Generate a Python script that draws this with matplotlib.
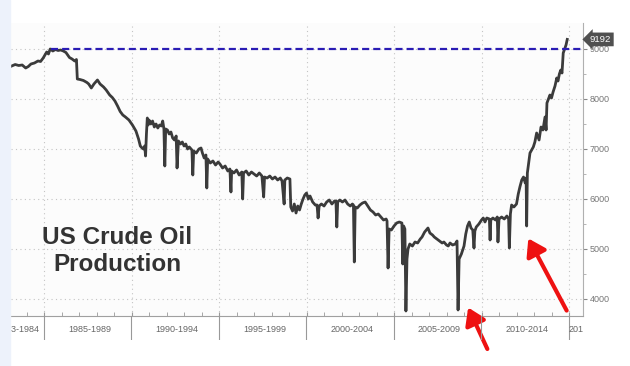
import matplotlib
matplotlib.use("Agg")
import matplotlib.pyplot as plt
from matplotlib.patches import Rectangle

# weekly US crude production (kb/d) as (decimal year, value)
years = [
    1983.15, 1983.35, 1983.55, 1983.75, 1983.95, 1984.1, 1984.25, 1984.45, 1984.65, 1984.8,
    1984.95, 1985.05, 1985.15, 1985.25, 1985.35, 1985.5, 1985.65, 1985.8, 1985.95, 1986.1,
    1986.25, 1986.45, 1986.6, 1986.75, 1986.85, 1986.9, 1987.05, 1987.25, 1987.45, 1987.55,
    1987.7, 1987.85, 1988.05, 1988.2, 1988.4, 1988.55, 1988.75, 1988.9, 1989.05, 1989.2,
    1989.35, 1989.5, 1989.65, 1989.85, 1990.05, 1990.25, 1990.4, 1990.5, 1990.6, 1990.68,
    1990.75, 1990.8, 1990.85, 1990.9, 1990.95, 1991.0, 1991.1, 1991.2, 1991.3, 1991.4,
    1991.5, 1991.6, 1991.7, 1991.78, 1991.85, 1991.9, 1991.95, 1992.05, 1992.15, 1992.25,
    1992.35, 1992.45, 1992.55, 1992.6, 1992.68, 1992.8, 1992.9, 1993.0, 1993.1, 1993.2,
    1993.3, 1993.45, 1993.5, 1993.55, 1993.7, 1993.85, 1993.97, 1994.05, 1994.15, 1994.25,
    1994.3, 1994.35, 1994.5, 1994.65, 1994.8, 1994.95, 1995.05, 1995.2, 1995.35, 1995.5,
    1995.62, 1995.68, 1995.72, 1995.85, 1996.0, 1996.15, 1996.3, 1996.35, 1996.4, 1996.55,
    1996.7, 1996.85, 1997.0, 1997.15, 1997.3, 1997.45, 1997.55, 1997.6, 1997.75, 1997.9,
    1998.05, 1998.2, 1998.35, 1998.5, 1998.6, 1998.72, 1998.76, 1998.9, 1999.05, 1999.1,
    1999.2, 1999.3, 1999.4, 1999.5, 1999.6, 1999.7, 1999.8, 1999.9, 2000.0, 2000.1,
    2000.2, 2000.35, 2000.5, 2000.6, 2000.66, 2000.72, 2000.85, 2001.0, 2001.15, 2001.3,
    2001.45, 2001.6, 2001.68, 2001.73, 2001.78, 2001.9, 2002.05, 2002.2, 2002.35, 2002.5,
    2002.62, 2002.68, 2002.73, 2002.78, 2002.9, 2003.05, 2003.2, 2003.35, 2003.5, 2003.65,
    2003.8, 2003.95, 2004.1, 2004.25, 2004.4, 2004.55, 2004.6, 2004.66, 2004.72, 2004.85,
    2005.0, 2005.15, 2005.3, 2005.45, 2005.5, 2005.55, 2005.62, 2005.68, 2005.74, 2005.8,
    2005.9, 2006.05, 2006.2, 2006.35, 2006.5, 2006.6, 2006.75, 2006.94, 2007.05, 2007.2,
    2007.3, 2007.45, 2007.6, 2007.75, 2007.85, 2008.0, 2008.1, 2008.2, 2008.35, 2008.5,
    2008.6, 2008.66, 2008.72, 2008.85, 2009.0, 2009.1, 2009.2, 2009.3, 2009.4, 2009.5,
    2009.57, 2009.62, 2009.7, 2009.85, 2010.0, 2010.1, 2010.2, 2010.3, 2010.45, 2010.49,
    2010.53, 2010.65, 2010.8, 2010.9, 2010.94, 2011.0, 2011.15, 2011.3, 2011.45, 2011.55,
    2011.59, 2011.65, 2011.72, 2011.85, 2012.0, 2012.1, 2012.2, 2012.3, 2012.4, 2012.5,
    2012.55, 2012.58, 2012.62, 2012.77, 2012.96, 2013.05, 2013.15, 2013.29, 2013.4, 2013.51,
    2013.63, 2013.69, 2013.74, 2013.91, 2014.0, 2014.09, 2014.2, 2014.3, 2014.37, 2014.45,
    2014.53, 2014.6, 2014.67, 2014.75, 2014.83, 2014.9,
]
production = [
    8660, 8690, 8670, 8680, 8620, 8650, 8700, 8720, 8760, 8750,
    8820, 8880, 8940, 8900, 9000, 8960, 8990, 8970, 8980, 8960,
    8930, 8830, 8800, 8760, 8790, 8400, 8390, 8370, 8330, 8300,
    8220, 8300, 8380, 8300, 8240, 8180, 8080, 8030, 7960, 7860,
    7750, 7680, 7640, 7580, 7480, 7360, 7200, 7060, 7020, 7000,
    7060, 6860, 7300, 7620, 7480, 7580, 7500, 7560, 7440, 7500,
    7420, 7480, 7460, 7560, 7400, 6660, 7400, 7380, 7300, 7340,
    7220, 7180, 7260, 6620, 7160, 7100, 7140, 7060, 7100, 7000,
    7040, 6980, 6480, 6960, 6920, 7000, 7020, 6920, 6820, 6880,
    6220, 6800, 6720, 6760, 6680, 6740, 6700, 6620, 6660, 6560,
    6600, 6140, 6560, 6520, 6580, 6480, 6540, 6000, 6520, 6560,
    6480, 6540, 6500, 6460, 6520, 6460, 6040, 6440, 6420, 6460,
    6400, 6440, 6380, 6420, 6360, 5900, 6380, 6420, 6400, 5840,
    5760, 5900, 5720, 5860, 5780, 5900, 6000, 6080, 6120, 6000,
    6060, 5940, 5880, 5880, 5620, 5860, 5900, 5860, 5940, 5980,
    5900, 5960, 5960, 5440, 5940, 5980, 5940, 5980, 5900, 5860,
    5900, 5880, 4740, 5840, 5820, 5880, 5920, 5940, 5860, 5780,
    5740, 5680, 5700, 5640, 5580, 5600, 5560, 4620, 5400, 5380,
    5460, 5520, 5540, 5520, 4700, 5460, 5400, 3760, 4800, 5000,
    5100, 5060, 5140, 5120, 5200, 5240, 5340, 5420, 5320, 5280,
    5240, 5200, 5160, 5120, 5140, 5080, 5060, 5120, 5080, 5100,
    5160, 3780, 4800, 4900, 5060, 5300, 5460, 5540, 5420, 5380,
    5020, 5360, 5440, 5500, 5580, 5620, 5540, 5620, 5600, 5180,
    5580, 5620, 5580, 5640, 5140, 5600, 5640, 5600, 5660, 5600,
    5020, 5700, 5880, 5840, 5900, 6100, 6250, 6380, 6440, 6320,
    6420, 5460, 6520, 6920, 7040, 7140, 7320, 7180, 7440, 7380,
    7640, 7380, 7920, 8080, 8020, 8140, 8260, 8420, 8360, 8500,
    8580, 8520, 8920, 9000, 9080, 9192,
]

period_labels = ["1983-1984", "1985-1989", "1990-1994", "1995-1999",
                 "2000-2004", "2005-2009", "2010-2014", "2015-2019"]
period_centers = [1983.5, 1987.6, 1992.6, 1997.6, 2002.6, 2007.6, 2012.6, 2016.2]
period_breaks = [1985, 1990, 1995, 2000, 2005, 2010, 2015]
prior_peak = 9000

fig = plt.figure(figsize=(6.3, 3.66), dpi=100)
fig.patches.append(Rectangle((0, 0), 10 / 630, 1, transform=fig.transFigure,
                             color="#edf2fb", zorder=0))

ax = fig.add_axes([11 / 630, 1 - 316 / 366, 572 / 630, 293 / 366])
ax.set_facecolor("#fcfcfc")
ax.set_xlim(1983.11, 2015.8)
ax.set_ylim(3660, 9520)

ax.plot(years, production, color="#3b3b3b", lw=2.0, zorder=3)
ax.hlines(prior_peak, 1985.4, 2015.8, colors="#2a1cb4", lw=1.6,
          linestyles=(0, (3.2, 1.8)), zorder=4)

# grid
ax.set_yticks(range(4000, 9001, 1000))
ax.set_yticks(range(4500, 9001, 1000), minor=True)
ax.set_xticks(period_breaks)
ax.set_xticks(range(1984, 2016), minor=True)
ax.grid(True, which="major", color="#c4c4c4", lw=0.8, linestyle=(0, (1, 3)))
ax.xaxis.set_tick_params(which="both", direction="in", length=3, color="#999999",
                         labelbottom=False)
ax.yaxis.tick_right()
ax.tick_params(axis="y", which="major", direction="out", length=3, color="#888888",
               labelsize=6.5, labelcolor="#777777", pad=2)
ax.tick_params(axis="y", which="minor", direction="out", length=2, color="#aaaaaa")
for lab in ax.get_yticklabels():
    lab.set_family("Liberation Sans")
for side in ["top", "left"]:
    ax.spines[side].set_visible(False)
ax.spines["right"].set_color("#b0b0b0")
ax.spines["bottom"].set_color("#a0a0a0")

# last value tag
last = production[-1]
ax.annotate(f"{last}", xy=(2015.8, last), xytext=(5, 0), textcoords="offset points",
            va="center", ha="left", fontsize=6.8, color="white", family="Liberation Sans",
            bbox=dict(boxstyle="larrow,pad=0.25", fc="#505050", ec="none"),
            annotation_clip=False)

# period label strip under the axis
strip = fig.add_axes([0, 1 - 340 / 366, 583 / 630, 24 / 366])
strip.set_xlim(1982.49, 2015.8)
strip.set_ylim(0, 1)
strip.axis("off")
for b in period_breaks:
    strip.axvline(b, color="#999999", lw=0.8)
for lbl, c in zip(period_labels, period_centers):
    strip.text(c, 0.42, lbl, ha="center", va="center", fontsize=6.5,
               color="#666666", family="Liberation Sans", clip_on=True)

# title
ax.text(1989.2, 4960, "US Crude Oil\nProduction", ha="center", va="center",
        fontsize=17.5, fontweight="bold", color="#333333", family="Liberation Sans",
        linespacing=1.2, zorder=5)

# red arrows
arrow = dict(arrowstyle="-|>,head_length=1.0,head_width=0.65", color="#ee1111", lw=3)
ax.annotate("", xy=(2009.17, 3880), xytext=(2010.4, 2950), arrowprops=arrow,
            annotation_clip=False)
ax.annotate("", xy=(2012.6, 5260), xytext=(2014.94, 3720), arrowprops=arrow,
            annotation_clip=False)

fig.savefig("out.png", dpi=100)
